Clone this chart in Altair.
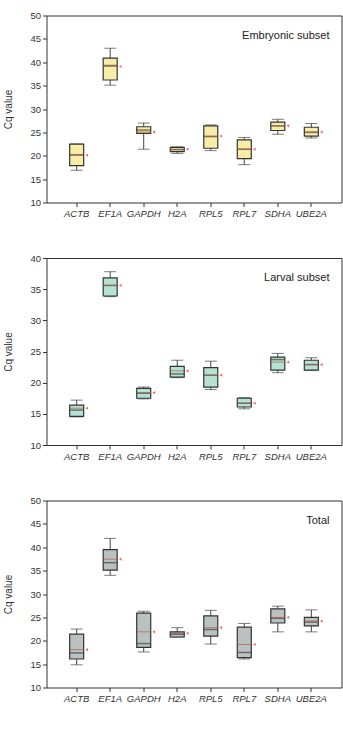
import altair as alt
import pandas as pd

genes = ["ACTB", "EF1A", "GAPDH", "H2A", "RPL5", "RPL7", "SDHA", "UBE2A"]

# Embryonic subset: whisker min, Q1, median, Q3, whisker max, mean
emb_min = [16.9, 35.1, 21.4, 20.5, 21.1, 18.1, 24.6, 23.8]
emb_q1 = [17.9, 36.2, 24.8, 20.9, 21.6, 19.4, 25.4, 24.2]
emb_med = [20.2, 39.3, 25.5, 21.3, 24.1, 21.4, 26.4, 25.0]
emb_q3 = [22.5, 40.9, 26.2, 21.8, 26.4, 23.4, 27.2, 26.1]
emb_max = [22.5, 43.0, 27.0, 21.9, 26.6, 23.9, 27.8, 26.9]
emb_mean = [20.1, 39.1, 25.1, 21.4, 24.2, 21.4, 26.4, 25.1]

# Larval subset
lar_min = [14.5, 33.8, 17.4, 20.8, 18.9, 15.8, 21.6, 22.0]
lar_q1 = [14.6, 33.9, 17.5, 20.9, 19.3, 16.1, 22.0, 22.0]
lar_med = [15.6, 35.6, 18.3, 21.4, 21.2, 16.7, 23.7, 22.9]
lar_q3 = [16.4, 36.8, 19.1, 22.6, 22.4, 17.5, 24.1, 23.6]
lar_max = [17.2, 37.8, 19.3, 23.6, 23.45, 17.6, 24.7, 24.0]
lar_mean = [15.9, 35.6, 18.4, 21.9, 21.2, 16.7, 23.3, 22.9]

# Total
tot_min = [14.85, 34.0, 17.6, 20.8, 19.3, 16.1, 21.9, 21.9]
tot_q1 = [16.1, 35.1, 18.6, 20.8, 21.0, 16.4, 23.8, 23.2]
tot_med = [17.4, 36.7, 19.4, 21.4, 22.4, 17.5, 24.8, 24.0]
tot_q3 = [21.4, 39.5, 25.9, 21.9, 25.3, 22.9, 26.8, 25.0]
tot_max = [22.5, 41.9, 26.3, 22.8, 26.5, 23.7, 27.4, 26.6]
tot_mean = [18.1, 37.45, 21.9, 21.6, 22.8, 19.2, 25.0, 24.2]

FONT = "Liberation Sans"
W, H = 295, 187


def panel(mn, q1, med, q3, mx, mean, fill, label, ymax):
    df = pd.DataFrame({"gene": genes, "mn": mn, "q1": q1, "med": med,
                       "q3": q3, "mx": mx, "mean": mean})
    x = alt.X("gene:N", sort=genes, title=None,
              scale=alt.Scale(paddingInner=0, paddingOuter=0.4),
              axis=alt.Axis(labelAngle=0, labelFontStyle="italic", labelFont=FONT,
                            labelFontSize=9.5, labelColor="#333", tickColor="#333",
                            tickSize=4, labelPadding=2, domain=False))
    yscale = alt.Scale(domain=[10, ymax], nice=False, zero=False)
    y_axis = alt.Axis(values=list(range(10, ymax + 1, 5)), labelOverlap=False,
                      grid=False, domain=False,
                      tickSize=4, tickColor="#333", labelFont=FONT, labelFontSize=9.5,
                      labelColor="#333", labelPadding=2, title="Cq value",
                      titleFont=FONT, titleFontSize=10, titleFontWeight="normal",
                      titleColor="#333", titlePadding=16.5)

    def yenc(field):
        return alt.Y(field, scale=yscale, axis=y_axis)

    base = alt.Chart(df)
    whisk = base.mark_rule(color="#444", strokeWidth=1).encode(
        x=x, y=yenc("mn:Q"), y2="mx:Q")
    caps_lo = base.mark_tick(color="#444", size=12, thickness=1).encode(
        x=x, y=yenc("mn:Q"))
    caps_hi = base.mark_tick(color="#444", size=12, thickness=1).encode(
        x=x, y=yenc("mx:Q"))
    box = base.mark_bar(width=14, fill=fill, stroke="#333", strokeWidth=1.2).encode(
        x=x, y=yenc("q1:Q"), y2="q3:Q")
    median = base.mark_tick(color="#444", size=14, thickness=1.5).encode(
        x=x, y=yenc("med:Q"))
    mean_line = base.mark_tick(color="#b5564a", size=14, thickness=1).encode(
        x=x, y=yenc("mean:Q"))
    mean_pt = base.mark_point(shape="triangle-left", filled=True, color="#d8302a",
                              size=10, xOffset=10).encode(
        x=x, y=yenc("mean:Q"))
    title = alt.Chart(pd.DataFrame({"t": [label]})).mark_text(
        align="right", baseline="middle", font=FONT, fontSize=11, color="#222").encode(
        text="t:N", x=alt.value(283), y=alt.value(20))
    return alt.layer(whisk, caps_lo, caps_hi, box, median, mean_line, mean_pt,
                     title).properties(width=W, height=H)


p1 = panel(emb_min, emb_q1, emb_med, emb_q3, emb_max, emb_mean,
           "#f6eea6", "Embryonic subset", 50)
p2 = panel(lar_min, lar_q1, lar_med, lar_q3, lar_max, lar_mean,
           "#b4e3d2", "Larval subset", 40)
p3 = panel(tot_min, tot_q1, tot_med, tot_q3, tot_max, tot_mean,
           "#b9c2c1", "Total", 50)

chart = alt.vconcat(p1, p2, p3, spacing=33.5).properties(
    padding={"left": 2.5, "top": 9.5, "right": 0, "bottom": 5},
    background="white",
).configure_view(stroke="#333", strokeWidth=1)

chart.save("out.html", embed_options={"renderer": "svg", "actions": False})
